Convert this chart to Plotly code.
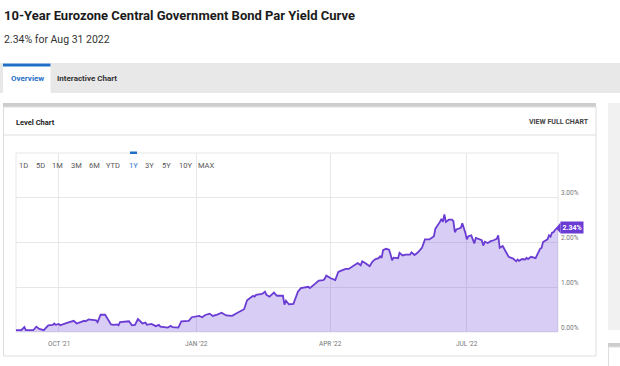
import plotly.graph_objects as go

# ---------------- data ----------------
dates = [
    "2021-09-02", "2021-09-05", "2021-09-06", "2021-09-08", "2021-09-09", "2021-09-14",
    "2021-09-16", "2021-09-18", "2021-09-21", "2021-09-24", "2021-09-27", "2021-09-28",
    "2021-09-29", "2021-10-01", "2021-10-02", "2021-10-06", "2021-10-11", "2021-10-13",
    "2021-10-18", "2021-10-19", "2021-10-21", "2021-10-26", "2021-10-27", "2021-10-29",
    "2021-11-01", "2021-11-05", "2021-11-07", "2021-11-09", "2021-11-10", "2021-11-11",
    "2021-11-17", "2021-11-19", "2021-11-21", "2021-11-23", "2021-11-26", "2021-11-28",
    "2021-11-29", "2021-12-02", "2021-12-05", "2021-12-07", "2021-12-08", "2021-12-13",
    "2021-12-15", "2021-12-16", "2021-12-20", "2021-12-22", "2021-12-27", "2021-12-29",
    "2022-01-01", "2022-01-03", "2022-01-05", "2022-01-07", "2022-01-10", "2022-01-12",
    "2022-01-15", "2022-01-18", "2022-01-21", "2022-01-25", "2022-01-28", "2022-02-02",
    "2022-02-04", "2022-02-08", "2022-02-09", "2022-02-10", "2022-02-14", "2022-02-16",
    "2022-02-17", "2022-02-19", "2022-02-22", "2022-02-24", "2022-02-28", "2022-03-01",
    "2022-03-02", "2022-03-04", "2022-03-07", "2022-03-10", "2022-03-12", "2022-03-15",
    "2022-03-17", "2022-03-18", "2022-03-20", "2022-03-22", "2022-03-24", "2022-03-27",
    "2022-03-28", "2022-03-29", "2022-03-31", "2022-04-01", "2022-04-04", "2022-04-06",
    "2022-04-08", "2022-04-11", "2022-04-13", "2022-04-15", "2022-04-17", "2022-04-19",
    "2022-04-21", "2022-04-22", "2022-04-24", "2022-04-25", "2022-04-27", "2022-04-29",
    "2022-05-01", "2022-05-03", "2022-05-04", "2022-05-05", "2022-05-06", "2022-05-08",
    "2022-05-10", "2022-05-11", "2022-05-12", "2022-05-13", "2022-05-15", "2022-05-16",
    "2022-05-17", "2022-05-19", "2022-05-21", "2022-05-24", "2022-05-25", "2022-05-27",
    "2022-05-29", "2022-06-01", "2022-06-03", "2022-06-06", "2022-06-09", "2022-06-10",
    "2022-06-13", "2022-06-14", "2022-06-15", "2022-06-16", "2022-06-17", "2022-06-19",
    "2022-06-21", "2022-06-22", "2022-06-23", "2022-06-24", "2022-06-27", "2022-06-28",
    "2022-06-30", "2022-07-01", "2022-07-02", "2022-07-04", "2022-07-05", "2022-07-06",
    "2022-07-07", "2022-07-09", "2022-07-11", "2022-07-12", "2022-07-13", "2022-07-15",
    "2022-07-17", "2022-07-19", "2022-07-21", "2022-07-22", "2022-07-23", "2022-07-25",
    "2022-07-26", "2022-07-27", "2022-07-29", "2022-08-01", "2022-08-03", "2022-08-04",
    "2022-08-05", "2022-08-07", "2022-08-09", "2022-08-10", "2022-08-11", "2022-08-13",
    "2022-08-15", "2022-08-16", "2022-08-19", "2022-08-20", "2022-08-21", "2022-08-23",
    "2022-08-24", "2022-08-25", "2022-08-26", "2022-08-27", "2022-08-28", "2022-08-29",
    "2022-08-30", "2022-08-31",
]
yields = [
    0.04, 0.05, 0.04, 0.11, 0.04, 0.04,
    0.12, 0.07, 0.04, 0.15, 0.16, 0.19,
    0.16, 0.18, 0.15, 0.20, 0.25, 0.19,
    0.25, 0.24, 0.28, 0.26, 0.22, 0.385,
    0.385, 0.17, 0.16, 0.17, 0.15, 0.22,
    0.24, 0.15, 0.16, 0.29, 0.19, 0.21,
    0.16, 0.18, 0.13, 0.16, 0.12, 0.10,
    0.14, 0.11, 0.10, 0.24, 0.25, 0.33,
    0.35, 0.36, 0.33, 0.38, 0.41, 0.36,
    0.39, 0.43, 0.37, 0.36, 0.42, 0.51,
    0.71, 0.81, 0.79, 0.83, 0.85, 0.90,
    0.83, 0.79, 0.88, 0.81, 0.81, 0.61,
    0.70, 0.62, 0.63, 0.90, 0.98, 0.99,
    1.01, 0.98, 1.04, 1.11, 1.15, 1.16,
    1.19, 1.26, 1.22, 1.20, 1.16, 1.34,
    1.37, 1.41, 1.41, 1.46, 1.51, 1.54,
    1.49, 1.58, 1.54, 1.51, 1.47, 1.58,
    1.63, 1.65, 1.69, 1.66, 1.83, 1.86,
    1.84, 1.73, 1.60, 1.66, 1.66, 1.65,
    1.77, 1.71, 1.73, 1.73, 1.78, 1.72,
    1.77, 1.88, 2.07, 2.07, 2.14, 2.31,
    2.46, 2.53, 2.46, 2.63, 2.46, 2.51,
    2.51, 2.48, 2.23, 2.29, 2.33, 2.43,
    2.22, 2.07, 2.14, 2.16, 2.07, 1.98,
    2.10, 2.08, 2.05, 1.93, 2.02, 1.99,
    2.03, 2.05, 2.08, 2.16, 1.88, 1.92,
    1.86, 1.77, 1.68, 1.64, 1.58, 1.62,
    1.59, 1.63, 1.62, 1.66, 1.63, 1.68,
    1.66, 1.65, 1.86, 1.88, 2.01, 2.05,
    2.07, 2.16, 2.13, 2.22, 2.23, 2.28,
    2.31, 2.34,
]
x_tick_dates = ["2021-10-01", "2022-01-01", "2022-04-01", "2022-07-01"]
x_tick_labels = ["OCT '21", "JAN '22", "APR '22", "JUL '22"]
y_tick_values = [0, 1, 2, 3]
y_tick_labels = ["0.00%", "1.00%", "2.00%", "3.00%"]
range_buttons = ["1D", "5D", "1M", "3M", "6M", "YTD", "1Y", "3Y", "5Y", "10Y", "MAX"]
title_text = "10-Year Eurozone Central Government Bond Par Yield Curve"
subtitle_text = "2.34% for Aug 31 2022"
last_label = "2.34%"

# ---------------- layout geometry ----------------
W, H = 620, 366
L, R, T, B = 16, 62, 153, 34
PW, PH = W - L - R, H - T - B
FONT = "Roboto, sans-serif"
LINE = "#6a3cd3"
FILL = "rgba(106,60,211,0.26)"
BLUE = "#1f6fc8"
GRID = "#e7e7e7"


def px(x):
    return (x - L) / PW


def py(y):
    return (H - B - y) / PH


fig = go.Figure()
fig.add_trace(go.Scatter(
    x=dates, y=yields, mode="lines",
    line=dict(color=LINE, width=1.8),
    fill="tozeroy", fillcolor=FILL,
    hoverinfo="skip", showlegend=False,
))

shapes = []


def rect(x0, y0, x1, y1, fill=None, line=None, lw=1, layer="below"):
    shapes.append(dict(
        type="rect", xref="paper", yref="paper",
        x0=px(x0), x1=px(x1), y0=py(y0), y1=py(y1),
        fillcolor=fill if fill else "rgba(0,0,0,0)",
        line=dict(color=line if line else "rgba(0,0,0,0)", width=lw if line else 0),
        layer=layer,
    ))


def hline(x0, x1, y, color, lw=1):
    shapes.append(dict(type="line", xref="paper", yref="paper",
                       x0=px(x0), x1=px(x1), y0=py(y), y1=py(y),
                       line=dict(color=color, width=lw), layer="below"))


# tab bar
rect(0, 63, 620, 93, fill="#e8e8e8")
rect(3, 63, 50.5, 93, fill="#ffffff")
rect(3, 63.5, 50.5, 66.5, fill=BLUE)
# card
rect(3, 103, 596, 107, fill="#cdcdcd")
rect(3.5, 107, 596, 356, line="#dedede")
hline(3.5, 596, 135, "#dedede")
# right side panel
rect(608, 103, 620, 330, fill="#f1f1f1")
rect(608, 343, 620, 347, fill="#cdcdcd")
rect(608.5, 347, 621, 370, line="#dedede")
# plot frame
rect(L, T, W - R, H - B, line=GRID)
# selected range marker
rect(130, 151.5, 137, 154, fill=BLUE, layer="above")
# price tag pointer
shapes.append(dict(type="path", xref="paper", yref="paper",
                   path="M %f %f L %f %f L %f %f Z" % (px(556), py(228), px(560.5), py(222.5), px(560.5), py(233.5)),
                   fillcolor=LINE, line=dict(width=0), layer="above"))

ann = []


def text(x, y, s, size, color, xanchor="left", bold=False):
    ann.append(dict(
        xref="paper", yref="paper", x=px(x), y=py(y), text=("<b>%s</b>" % s) if bold else s,
        showarrow=False, xanchor=xanchor, yanchor="middle",
        font=dict(family=FONT, size=size, color=color),
    ))


text(2, 15.5, title_text, 13, "#1b1b1b", bold=True)
text(2, 39.5, subtitle_text, 10.5, "#333333")
text(27, 78, "Overview", 8, BLUE, xanchor="center", bold=True)
text(87, 78, "Interactive Chart", 8, "#333333", xanchor="center", bold=True)
text(14, 122, "Level Chart", 7.5, "#222222", bold=True)
text(591, 122, "VIEW FULL CHART", 7, "#444444", xanchor="right", bold=True)

btn_x = [23, 40, 57, 76, 94, 113, 133, 149, 166, 185, 206]
for bx, lab in zip(btn_x, range_buttons):
    text(bx, 165, lab, 7.5, BLUE if lab == "1Y" else "#555555", xanchor="center")

for v, lab in zip(y_tick_values, y_tick_labels):
    ann.append(dict(xref="paper", yref="y", x=1, y=v, text=lab, showarrow=False,
                    xanchor="left", yanchor="middle", xshift=1, yshift=4.5,
                    font=dict(family=FONT, size=6.5, color="#777777")))

for d, lab in zip(x_tick_dates, x_tick_labels):
    ann.append(dict(xref="x", yref="paper", x=d, y=py(343.5), text=lab, showarrow=False,
                    xanchor="center", yanchor="middle",
                    font=dict(family=FONT, size=6.5, color="#777777")))

ann.append(dict(xref="paper", yref="y", x=1, y=yields[-1], text="<b>%s</b>" % last_label,
                showarrow=False, xanchor="left", yanchor="middle", xshift=2,
                bgcolor=LINE, borderpad=1.5,
                font=dict(family=FONT, size=7, color="#ffffff")))

fig.update_layout(
    width=W, height=H,
    margin=dict(l=L, r=R, t=T, b=B, pad=0),
    paper_bgcolor="#ffffff", plot_bgcolor="#ffffff",
    shapes=shapes, annotations=ann,
    xaxis=dict(
        type="date", range=["2021-09-02 10:00", "2022-08-31"],
        tickvals=x_tick_dates, showticklabels=False,
        showgrid=True, gridcolor=GRID, gridwidth=1, zeroline=False,
        showline=False, ticks="",
    ),
    yaxis=dict(
        range=[0, 4], tickvals=[0, 1, 2, 3, 4], showticklabels=False,
        showgrid=True, gridcolor=GRID, gridwidth=1, zeroline=False, showline=False,
    ),
    showlegend=False,
)

fig.write_html(
    "out.html",
    config={"displayModeBar": False, "staticPlot": True},
    post_script="document.body.style.margin='0px';document.body.style.overflow='hidden';",
)
